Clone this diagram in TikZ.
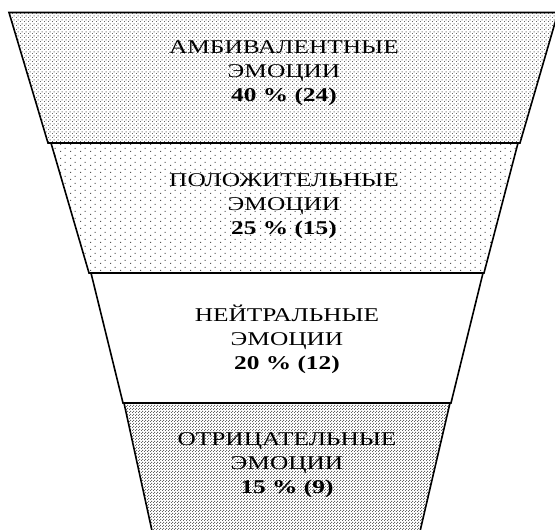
\documentclass[tikz,border=0pt]{standalone}
\usepackage{fontspec}
\setmainfont{Liberation Serif}
\newfontfamily\widefont[FakeStretch=1.3]{Liberation Serif}
\usetikzlibrary{patterns}
\pgfdeclarepatternformonly{dotsdense}{\pgfqpoint{0pt}{0pt}}{\pgfqpoint{4pt}{4pt}}{\pgfqpoint{4pt}{4pt}}{%
  \pgfpathrectangle{\pgfqpoint{0pt}{0pt}}{\pgfqpoint{1.2pt}{1.2pt}}%
  \pgfpathrectangle{\pgfqpoint{2pt}{2pt}}{\pgfqpoint{1.2pt}{1.2pt}}%
  \pgfusepath{fill}}
\pgfdeclarepatternformonly{dotssparse}{\pgfqpoint{0pt}{0pt}}{\pgfqpoint{10pt}{7pt}}{\pgfqpoint{10pt}{7pt}}{%
  \pgfpathrectangle{\pgfqpoint{0pt}{0pt}}{\pgfqpoint{1.2pt}{1.2pt}}%
  \pgfpathrectangle{\pgfqpoint{5pt}{3.5pt}}{\pgfqpoint{1.2pt}{1.2pt}}%
  \pgfusepath{fill}}
\pgfdeclarepatternformonly{dotsfine}{\pgfqpoint{0pt}{0pt}}{\pgfqpoint{3pt}{3pt}}{\pgfqpoint{3pt}{3pt}}{%
  \pgfpathrectangle{\pgfqpoint{0pt}{0pt}}{\pgfqpoint{1.2pt}{1.2pt}}%
  \pgfpathrectangle{\pgfqpoint{1.5pt}{1.5pt}}{\pgfqpoint{1.2pt}{1.2pt}}%
  \pgfusepath{fill}}
\tikzset{
  band/.style={draw=black, line width=1.6pt, line join=miter},
  lbl/.style={align=center, font=\widefont\fontsize{19.5}{24}\selectfont, text=black, inner sep=0pt},
}
\begin{document}
\begin{tikzpicture}[x=1pt,y=-1pt]
\useasboundingbox (0,0) rectangle (555,530);
\fill[white] (0,0) rectangle (555,530);
\clip (0,0) rectangle (555,530);
% band 1
\path[band, pattern=dotsdense, pattern color=gray!80!black]
  (9,12.5) -- (558,12.5) -- (520,143) -- (48,143) -- cycle;
% band 2
\path[band, pattern=dotssparse, pattern color=gray!65!black]
  (51,143) -- (518,143) -- (484,273) -- (89,273) -- cycle;
% band 3
\path[band, fill=white]
  (91,273) -- (483,273) -- (451,403) -- (123,403) -- cycle;
% band 4
\path[band, pattern=dotsfine, pattern color=gray!80!black]
  (124,403) -- (450,403) -- (418,540) -- (154,540) -- cycle;
\node[lbl] (t1) at (284,73) {АМБИВАЛЕНТНЫЕ\\ЭМОЦИИ\\\textbf{40 \% (24)}};
\node[lbl] (t2) at (284,206) {ПОЛОЖИТЕЛЬНЫЕ\\ЭМОЦИИ\\\textbf{25 \% (15)}};
\node[lbl] (t3) at (287,339) {НЕЙТРАЛЬНЫЕ\\ЭМОЦИИ\\\textbf{20 \% (12)}};
\node[lbl] (t4) at (287,465) {ОТРИЦАТЕЛЬНЫЕ\\ЭМОЦИИ\\\textbf{15 \% (9)}};
\end{tikzpicture}
\end{document}
